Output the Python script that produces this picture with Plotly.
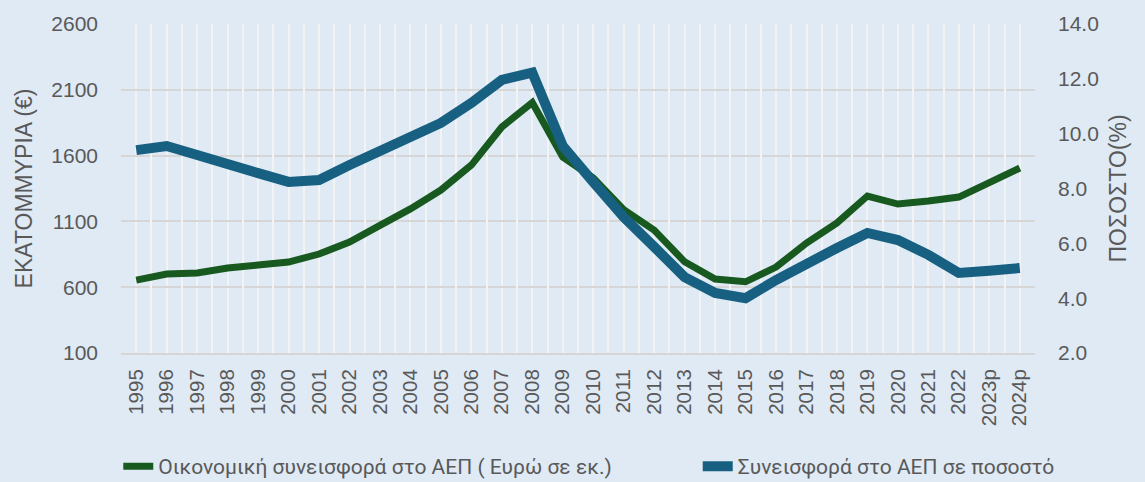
import plotly.graph_objects as go

# Χρονιές (κατηγορίες άξονα x)
YEARS = [str(y) for y in range(1995, 2023)] + ["2023p", "2024p"]

# Οικονομική συνεισφορά στο ΑΕΠ (εκατ. €) - αριστερός άξονας
EUR_MILLIONS = [
    654, 700, 708, 746, 768, 791, 852, 943, 1070, 1195,
    1338, 1528, 1817, 2003, 1589, 1430, 1190, 1034, 793, 662,
    641, 753, 935, 1088, 1293, 1232, 1255, 1285, 1395, 1506,
]

# Συνεισφορά στο ΑΕΠ σε ποσοστό (%) - δεξιός άξονας
GDP_PCT = [
    9.40, 9.55, 9.22, 8.93, 8.56, 8.24, 8.31, 8.86, 9.40, 9.84,
    10.39, 11.12, 11.96, 12.23, 9.55, 8.24, 6.96, 5.87, 4.77, 4.19,
    4.00, 4.66, 5.28, 5.83, 6.38, 6.12, 5.58, 4.92, 5.00, 5.10,
]

LEFT_TICKS = [100, 600, 1100, 1600, 2100, 2600]
RIGHT_TICKS = [2, 4, 6, 8, 10, 12, 14]

GREEN = "#18591f"
BLUE = "#176082"
BG = "#dfeaf5"
TXT = "#595959"
FONT = "Liberation Sans"

fig = go.Figure()
fig.add_trace(go.Scatter(
    x=YEARS, y=EUR_MILLIONS, name="Οικονομική συνεισφορά στο ΑΕΠ ( Ευρώ σε εκ.)",
    mode="lines", line=dict(color=GREEN, width=7),
    xaxis="x", yaxis="y", legend="legend",
))
fig.add_trace(go.Scatter(
    x=YEARS, y=GDP_PCT, name="Συνεισφορά στο ΑΕΠ σε ποσοστό",
    mode="lines", line=dict(color=BLUE, width=10),
    xaxis="x2", yaxis="y2", legend="legend2",
))

xcommon = dict(
    type="category", categoryorder="array", categoryarray=YEARS,
    range=[-0.5, len(YEARS) - 0.5], fixedrange=True,
)
legcommon = dict(
    orientation="h", xanchor="left", y=-0.345, yanchor="middle",
    font=dict(family="Roboto", size=21, color=TXT),
    bgcolor="rgba(0,0,0,0)",
)
fig.update_layout(
    width=1145, height=482,
    paper_bgcolor=BG, plot_bgcolor=BG,
    font=dict(family=FONT, color=TXT, size=21),
    margin=dict(l=121, r=110, t=24, b=129, autoexpand=False),
    xaxis=dict(
        **xcommon,
        showgrid=True, gridcolor="#f3f3f3", gridwidth=1.5,
        showline=True, linecolor="#d6d6d6", linewidth=2,
        tickangle=-90, tickfont=dict(size=20.5, color=TXT),
        ticks="", ticklabelstandoff=6,
    ),
    xaxis2=dict(
        **xcommon, overlaying="x", anchor="y",
        tickson="boundaries", showgrid=True, gridcolor="#f3f3f3", gridwidth=1.5,
        showticklabels=False, ticks="",
    ),
    yaxis=dict(
        range=[100, 2600], tickvals=LEFT_TICKS, fixedrange=True,
        showgrid=True, gridcolor="#d6d6d6", gridwidth=2, zeroline=False,
        tickfont=dict(size=21, color=TXT), ticklabelstandoff=22,
        title=dict(text="ΕΚΑΤΟΜΜΥΡΙΑ (€)", font=dict(size=23, color=TXT), standoff=12),
    ),
    yaxis2=dict(
        range=[2, 14], tickvals=RIGHT_TICKS, tickformat=".1f", fixedrange=True,
        overlaying="y", side="right", anchor="x2",
        showgrid=False, zeroline=False,
        tickfont=dict(size=21, color=TXT), ticklabelstandoff=22,
        title=dict(text="ΠΟΣΟΣΤΟ(%)", font=dict(size=23, color=TXT), standoff=12),
    ),
    legend=dict(**legcommon, x=-0.003),
    legend2=dict(**legcommon, x=0.631),
    showlegend=True,
)

# page margin off so the figure sits at the window's top-left corner
fig.write_html(
    "out.html",
    config={"displayModeBar": False},
    post_script="document.body.style.margin='0';"
                "document.body.style.background='" + BG + "';",
)
